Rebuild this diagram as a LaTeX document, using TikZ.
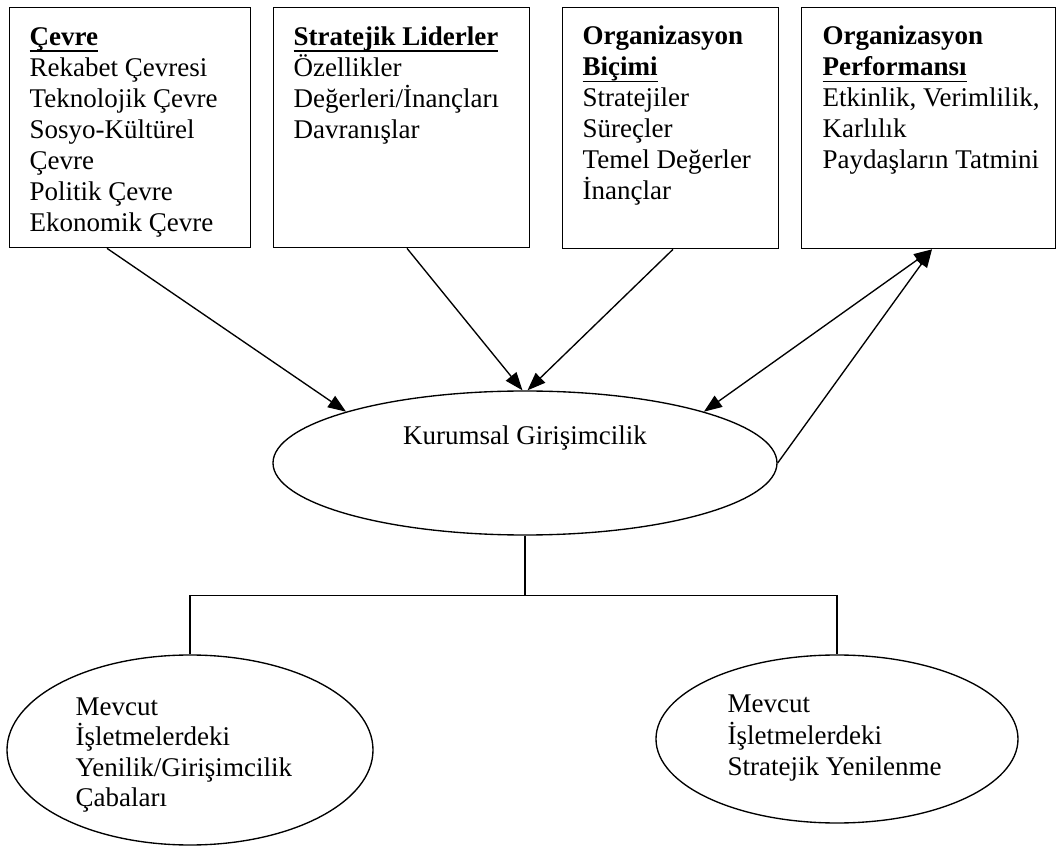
\documentclass[tikz,border=0pt]{standalone}
\usepackage{fontspec}
\setmainfont{Liberation Serif}
\usetikzlibrary{shapes.geometric,arrows.meta,calc}
\newdimen\pxu \pxu=0.4444pt
\newcommand\myul[1]{\setbox0\hbox{#1}\rlap{\rule[-2.9pt]{\wd0}{0.65pt}}\box0}
\newcommand\topstrut{\vrule height 0.7\baselineskip depth 0pt width 0pt}
\begin{document}
\begin{tikzpicture}[x=0.4444pt,y=-0.4444pt, line width=0.6pt,
  box/.style={draw, rectangle, inner sep=0pt, anchor=north west},
  oval/.style={draw, ellipse, inner sep=0pt},
  txt/.style={inner sep=0pt, anchor=north west, align=left, font=\fontsize{12}{13.8}\selectfont},
  arr/.style={-{Triangle[length=8pt,width=6pt]}},
  darr/.style={{Triangle[length=8pt,width=6pt]}-{Triangle[length=8pt,width=6pt]}}]
\useasboundingbox (0,0) rectangle (1058,848);
% boxes
\node[box, minimum width=241\pxu, minimum height=240\pxu] (b1) at (9,7) {};
\node[box, minimum width=256\pxu, minimum height=240\pxu] (b2) at (273,7) {};
\node[box, minimum width=216\pxu, minimum height=241\pxu] (b3) at (562,7) {};
\node[box, minimum width=254\pxu, minimum height=241\pxu] (b4) at (801,7) {};
\node[txt] (t1) at ($(b1.north west)+(20,16)$) {\topstrut\myul{\textbf{Çevre}}\\Rekabet Çevresi\\Teknolojik Çevre\\Sosyo-Kültürel\\Çevre\\Politik Çevre\\Ekonomik Çevre};
\node[txt] (t2) at ($(b2.north west)+(20,16)$) {\topstrut\myul{\textbf{Stratejik Liderler}}\\Özellikler\\Değerleri/İnançları\\Davranışlar};
\node[txt] (t3) at ($(b3.north west)+(20,15)$) {\topstrut\textbf{Organizasyon}\\\myul{\textbf{Biçimi}}\\Stratejiler\\Süreçler\\Temel Değerler\\İnançlar};
\node[txt] (t4) at ($(b4.north west)+(21,15)$) {\topstrut\textbf{Organizasyon}\\\myul{\textbf{Performansı}}\\Etkinlik, Verimlilik,\\Karlılık\\Paydaşların Tatmini};
% central ellipse
\node[oval, minimum width=504\pxu, minimum height=144\pxu] (kg) at (525,463) {};
\node[inner sep=0pt, anchor=base, font=\fontsize{12}{13.8}\selectfont] (kgt) at ($(kg.center)+(0,-18)$) {Kurumsal Girişimcilik};
% lower ellipses
\node[oval, minimum width=366\pxu, minimum height=190\pxu] (lb) at (190,750) {};
\node[txt, font=\fontsize{12}{13.4}\selectfont] (lbt) at (75,694) {\topstrut Mevcut\\İşletmelerdeki\\Yenilik/Girişimcilik\\Çabaları};
\node[oval, minimum width=362\pxu, minimum height=168\pxu] (rb) at (837,739) {};
\node[txt, font=\fontsize{12}{14}\selectfont] (rbt) at (727,690) {\topstrut Mevcut\\İşletmelerdeki\\Stratejik Yenilenme};
% arrows
\draw[arr] ($(b1.south west)+(98,0)$) -- (kg.164);
\draw[arr] ($(b2.south west)+(134,0)$) -- (kg.92);
\draw[arr] ($(b3.south west)+(111,0)$) -- (kg.88);
\coordinate (p4) at ($(b4.south west)+(131,0)$);
\draw[darr] (kg.16) -- (p4);
\draw[arr] (kg.east) -- (p4);
% tree
\coordinate (jn) at ($(kg.south)+(0,60)$);
\draw (kg.south) -- (jn);
\draw (lb.north) |- (jn) -| (rb.north);
\end{tikzpicture}
\end{document}
